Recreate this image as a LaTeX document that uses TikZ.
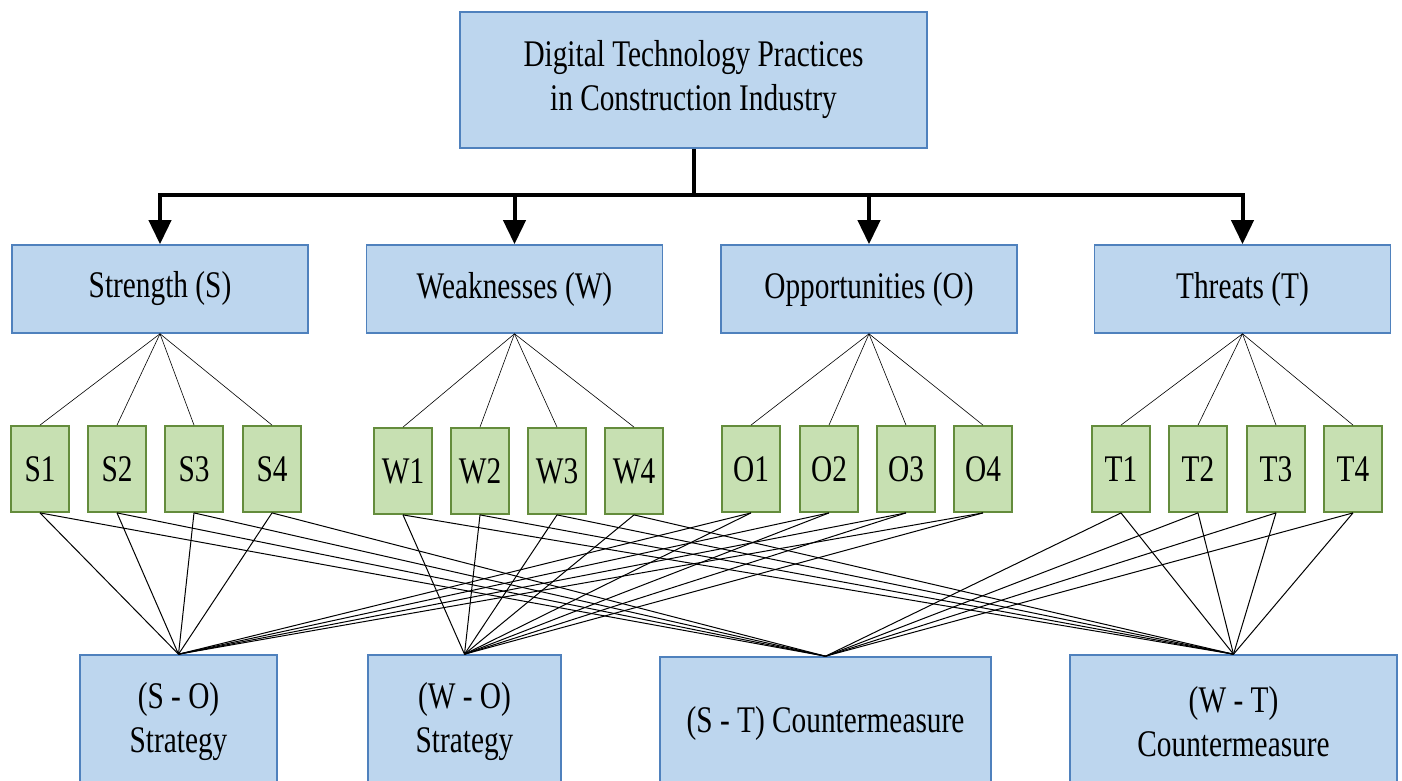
\documentclass[tikz,border=0pt]{standalone}
\usepackage{fontspec}
\setmainfont{Liberation Serif}[FakeStretch=0.78]
\usetikzlibrary{arrows.meta}
\definecolor{boxblue}{RGB}{189,214,238}
\definecolor{edgeblue}{RGB}{79,129,189}
\definecolor{boxgreen}{RGB}{199,224,178}
\definecolor{edgegreen}{RGB}{100,140,60}
\tikzset{
  bluebox/.style={draw=edgeblue, fill=boxblue, line width=1.6pt, inner sep=0pt, align=center},
  greenbox/.style={draw=edgegreen, fill=boxgreen, line width=1.8pt, minimum width=58pt, minimum height=86pt, inner sep=0pt},
  trunk/.style={line width=4pt},
  bigtip/.tip={Triangle[length=24pt,width=22pt]},
  fan/.style={line width=0.6pt},
  link/.style={line width=1pt}
}

\begin{document}
\begin{tikzpicture}[x=1pt, y=-1pt, font=\fontsize{37.6}{44}\selectfont]
\useasboundingbox (0,0) rectangle (1402,781);
\node[bluebox, minimum width=467pt, minimum height=136pt] (dtp) at (693.5,80) {Digital Technology Practices\\in Construction Industry};
\node[bluebox, minimum width=296pt, minimum height=88pt] (str) at (160,289) {Strength (S)};
\node[bluebox, minimum width=296pt, minimum height=88pt] (wea) at (514.5,289) {Weaknesses (W)};
\node[bluebox, minimum width=296pt, minimum height=88pt] (opp) at (869,289) {Opportunities (O)};
\node[bluebox, minimum width=296pt, minimum height=88pt] (thr) at (1242.5,289) {Threats (T)};
\coordinate (bar) at (693.5,195);
\draw[trunk] (dtp.south) -- (bar);
\draw[trunk, bigtip-bigtip] (str.north) -- (str.north |- bar) -- (thr.north |- bar) -- (thr.north);
\draw[trunk, -bigtip] (wea.north |- bar) -- (wea.north);
\draw[trunk, -bigtip] (opp.north |- bar) -- (opp.north);
\foreach \i/\xs/\xw/\xo/\xt in {1/40/403/751/1121, 2/117/480/829/1198, 3/194/557/906/1276, 4/272/634/983/1353} {
  \node[greenbox] (s\i) at (\xs,469) {S\i};
  \node[greenbox] (w\i) at (\xw,471) {W\i};
  \node[greenbox] (o\i) at (\xo,469) {O\i};
  \node[greenbox] (t\i) at (\xt,469) {T\i};
}
\node[bluebox, minimum width=197pt, minimum height=134pt] (so) at (178.5,722) {(S - O)\\Strategy};
\node[bluebox, minimum width=193pt, minimum height=134pt] (wo) at (464.5,722) {(W - O)\\Strategy};
\node[bluebox, minimum width=331pt, minimum height=132pt] (st) at (825.5,723) {(S - T) Countermeasure};
\node[bluebox, minimum width=327pt, minimum height=134pt] (wt) at (1233.5,722) {(W - T)\\Countermeasure};
\foreach \i in {1,...,4} {
  \draw[fan] (str.south) -- (s\i.north);
  \draw[fan] (wea.south) -- (w\i.north);
  \draw[fan] (opp.south) -- (o\i.north);
  \draw[fan] (thr.south) -- (t\i.north);
  \draw[link] (s\i.south) -- (so.north);
  \draw[link] (s\i.south) -- (st.north);
  \draw[link] (w\i.south) -- (wo.north);
  \draw[link] (w\i.south) -- (wt.north);
  \draw[link] (o\i.south) -- (so.north);
  \draw[link] (o\i.south) -- (wo.north);
  \draw[link] (t\i.south) -- (st.north);
  \draw[link] (t\i.south) -- (wt.north);
}
\end{tikzpicture}
\end{document}
